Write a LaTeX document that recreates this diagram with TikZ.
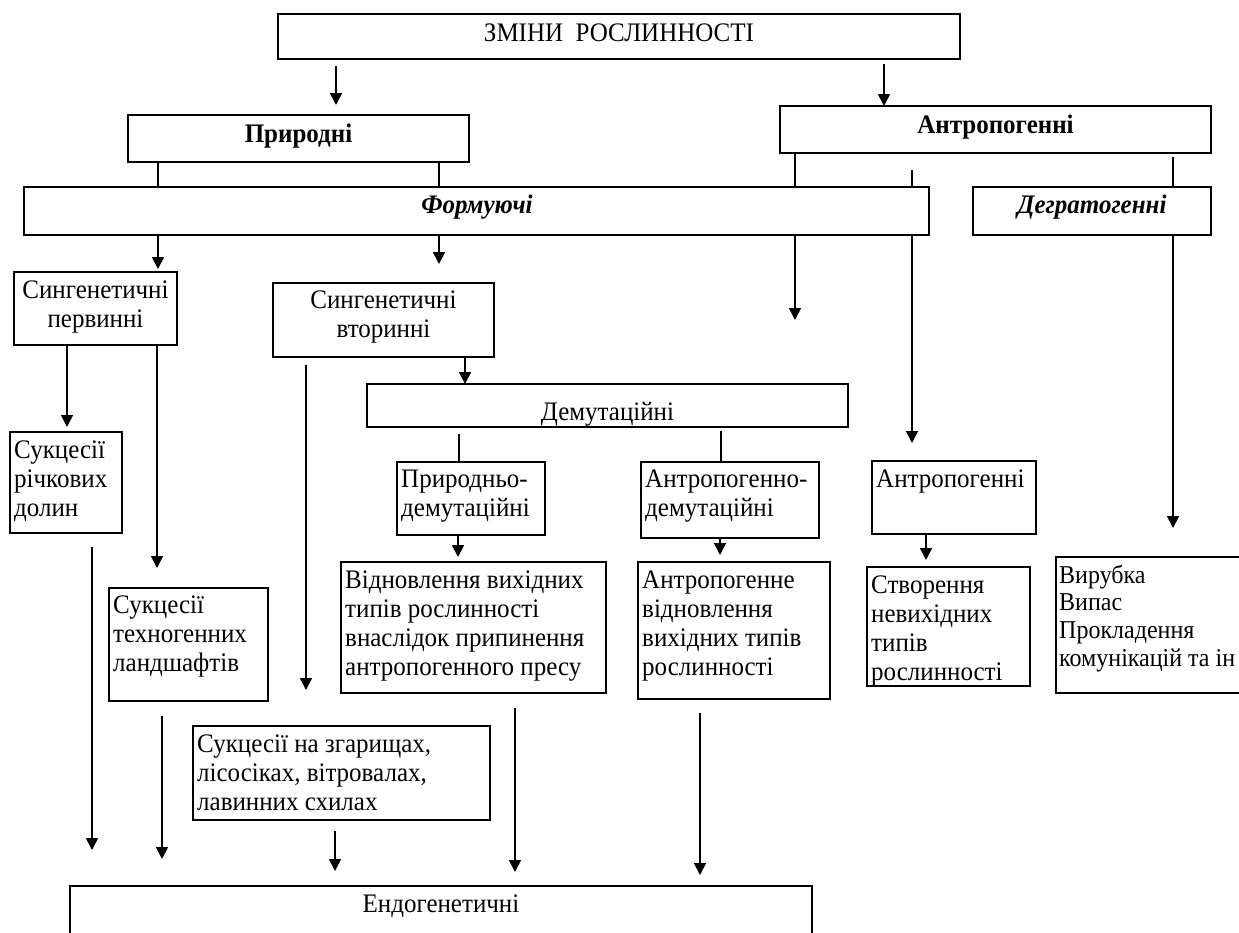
\documentclass[tikz,border=0pt]{standalone}
\usepackage{fontspec}
\usepackage{graphicx}
\setmainfont{Liberation Serif}
\usetikzlibrary{arrows.meta}
\newcommand\Ts[1]{\scalebox{1}[1.07]{#1}}
\newcommand\tl[1]{\Ts{\begin{tabular}[t]{@{}l@{}}#1\end{tabular}}}
\newcommand\tcn[1]{\Ts{\begin{tabular}[t]{@{}c@{}}#1\end{tabular}}}
\newcommand\mkbox[5]{\node[box, minimum width={(#4-#2)*1pt}, minimum height={(#5-#3)*1pt}] (#1) at (#2,#3) {};}
\tikzset{
  box/.style={draw, line width=1.3pt, fill=white, inner sep=0pt, outer sep=0pt, anchor=north west},
  txl/.style={inner sep=0pt, anchor=base west, font=\fontsize{25}{27.1}\selectfont},
  txc/.style={inner sep=0pt, anchor=base, font=\fontsize{25}{27.1}\selectfont},
  ln/.style={line width=1.7pt},
  arr/.style={line width=1.7pt, -{Triangle[length=12pt,width=12pt]}}
}
\begin{document}
\begin{tikzpicture}[x=1pt,y=-1pt]
\useasboundingbox (0,0) rectangle (1239,932);
\clip (0,0) rectangle (1239,932);
% boxes
\mkbox{top}{278}{14}{960}{59}
\mkbox{pryr}{128}{115}{469}{162}
\mkbox{antr}{780}{106}{1211}{153}
\mkbox{form}{24}{187}{929}{235}
\mkbox{degr}{973}{187}{1211}{235}
\mkbox{sp}{14}{272}{177}{345}
\mkbox{sv}{273}{283}{494}{357}
\mkbox{srd}{10}{432}{122}{533}
\mkbox{stl}{109}{588}{268}{701}
\mkbox{dem}{367}{384}{848}{427}
\mkbox{pdem}{397}{462}{545}{535}
\mkbox{adem}{641}{462}{819}{538}
\mkbox{antrb}{872}{461}{1036}{534}
\mkbox{vidn}{341}{562}{606}{693}
\mkbox{avidn}{638}{562}{830}{699}
\mkbox{stv}{867}{567}{1030}{686}
\mkbox{vyr}{1056}{557}{1270}{693}
\mkbox{szg}{193}{726}{490}{820}
\mkbox{endo}{70}{886}{812}{970}
% texts
\node[txc] (top-t) at (619,41) {\Ts{ЗМІНИ\ \ РОСЛИННОСТІ}};
\node[txc, font=\fontsize{25}{27.1}\selectfont\bfseries] (pryr-t) at (298.5,142) {\Ts{Природні}};
\node[txc, font=\fontsize{25}{27.1}\selectfont\bfseries] (antr-t) at (995.5,133) {\Ts{Антропогенні}};
\node[txc, font=\fontsize{25}{27.1}\selectfont\bfseries\itshape] (form-t) at (477,213) {\Ts{Формуючі}};
\node[txc, font=\fontsize{25}{27.1}\selectfont\bfseries\itshape] (degr-t) at (1092,213) {\Ts{Дегратогенні}};
\node[txc] (sp-t) at (95.5,298) {\tcn{Сингенетичні\\первинні}};
\node[txc] (sv-t) at (383.5,308) {\tcn{Сингенетичні\\вторинні}};
\node[txl] (srd-t) at (14,458) {\tl{Сукцесії\\річкових\\долин}};
\node[txl] (stl-t) at (113,613) {\tl{Сукцесії\\техногенних\\ландшафтів}};
\node[txc] (dem-t) at (607.5,420) {\Ts{Демутаційні}};
\node[txl] (pdem-t) at (401,487) {\tl{Природньо-\\демутаційні}};
\node[txl] (adem-t) at (645,487) {\tl{Антропогенно-\\демутаційні}};
\node[txl] (antrb-t) at (876,487) {\Ts{Антропогенні}};
\node[txl] (vidn-t) at (345,588) {\tl{Відновлення вихідних\\типів рослинності\\внаслідок припинення\\антропогенного пресу}};
\node[txl] (avidn-t) at (642,588) {\tl{Антропогенне\\відновлення\\вихідних типів\\рослинності}};
\node[txl] (stv-t) at (871,593) {\tl{Створення\\невихідних\\типів\\рослинності}};
\node[txl, font=\fontsize{24}{26}\selectfont] (vyr-t) at (1059,583) {\Ts{\begin{tabular}[t]{@{}l@{}}Вирубка\\Випас\\Прокладення\\комунікацій та ін\end{tabular}}};
\node[txl] (szg-t) at (197,752) {\tl{Сукцесії на згарищах,\\лісосіках, вітровалах,\\лавинних схилах}};
\node[txc] (endo-t) at (441,912) {\Ts{Ендогенетичні}};
% free-end coordinates
\coordinate (a1s) at (336,66);  \coordinate (a1e) at (336,105);
\coordinate (a2s) at (884,64);  \coordinate (a2e) at (884,106);
\coordinate (c158) at (158,269);
\coordinate (c439) at (439,264);
\coordinate (c795) at (795,320);
\coordinate (c912s) at (912,170); \coordinate (c912e) at (912,443);
\coordinate (c1173s) at (1173,157); \coordinate (c1173e) at (1173,528);
\coordinate (c67) at (67,427);
\coordinate (c157) at (157,568);
\coordinate (c306s) at (306,365); \coordinate (c306e) at (306,690);
\coordinate (c459) at (459,434);
\coordinate (c721) at (721,431);
\coordinate (c458) at (458,557);
\coordinate (c720) at (720,555);
\coordinate (c926) at (926,560);
\coordinate (c92s) at (92,547); \coordinate (c92e) at (92,850);
\coordinate (c162s) at (162,716); \coordinate (c162e) at (162,859);
\coordinate (c335s) at (335,831); \coordinate (c335e) at (335,871);
\coordinate (c515s) at (515,708); \coordinate (c515e) at (515,872);
\coordinate (c700s) at (700,713); \coordinate (c700e) at (700,875);
\coordinate (x465) at (465,0);
% connectors
\draw[arr] (a1s) -- (a1e);
\draw[arr] (a2s) -- (a2e);
\draw[ln] (pryr.south -| c158) -- (form.north -| c158);
\draw[ln] (pryr.south -| c439) -- (form.north -| c439);
\draw[ln] (antr.south -| c795) -- (form.north -| c795);
\draw[ln] (c912s) -- (form.north -| c912s);
\draw[ln] (c1173s) -- (degr.north -| c1173s);
\draw[arr] (form.south -| c158) -- (c158);
\draw[arr] (form.south -| c439) -- (c439);
\draw[arr] (form.south -| c795) -- (c795);
\draw[arr] (form.south -| c912s) -- (c912e);
\draw[arr] (degr.south -| c1173s) -- (c1173e);
\draw[arr] (sp.south -| c67) -- (c67);
\draw[arr] (sp.south -| c157) -- (c157);
\draw[arr] (sv.south -| x465) -- (dem.north -| x465);
\draw[arr] (c306s) -- (c306e);
\draw[ln] (c459) -- (pdem.north -| c459);
\draw[ln] (c721) -- (adem.north -| c721);
\draw[arr] (pdem.south -| c458) -- (c458);
\draw[arr] (adem.south -| c720) -- (c720);
\draw[arr] (antrb.south -| c926) -- (c926);
\draw[arr] (c92s) -- (c92e);
\draw[arr] (c162s) -- (c162e);
\draw[arr] (c335s) -- (c335e);
\draw[arr] (c515s) -- (c515e);
\draw[arr] (c700s) -- (c700e);
\end{tikzpicture}
\end{document}
